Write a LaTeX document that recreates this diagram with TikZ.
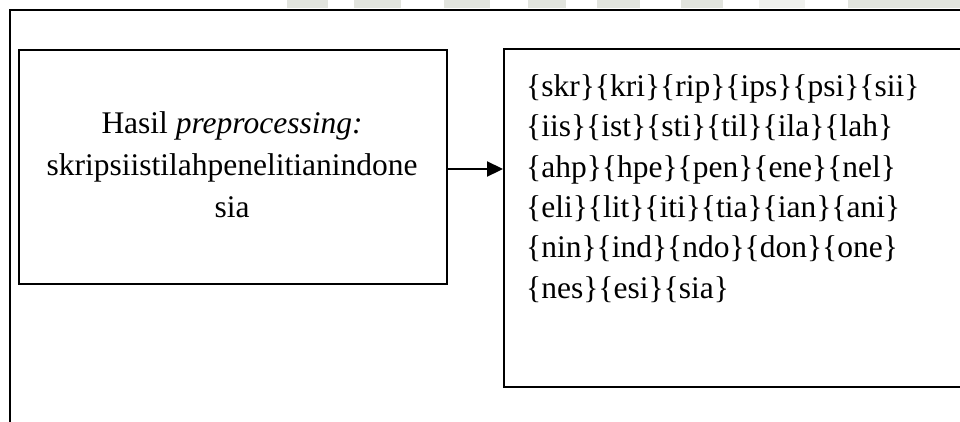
\documentclass[tikz,border=0pt]{standalone}
\usepackage{fontspec}
\setmainfont{Liberation Serif}
\usetikzlibrary{arrows.meta}
\definecolor{wm}{RGB}{226,228,222}
\begin{document}
\begin{tikzpicture}[x=1pt,y=-1pt,
  frame/.style={draw=black,line width=2.2pt},
  boxnode/.style={draw=black,line width=2.4pt,anchor=north west,inner sep=0pt},
  txt/.style={font=\fontsize{31.5}{42}\selectfont,inner sep=0pt},
  conn/.style={draw=black,line width=2.2pt,-{Triangle[length=16pt,width=15pt]}}]
\useasboundingbox (0,0) rectangle (960,421);
\clip (0,0) rectangle (960,421);
% faint watermark strip
\foreach \a/\b in {287/328,354/401,444/490,528/566,597/640,681/723,848/960}
  \fill[wm] (\a,0) rectangle (\b,8);
\fill[wm!50] (759,0) rectangle (805,8);
% outer frame
\coordinate (ftr) at (965,10);
\coordinate (ftl) at (10,10);
\coordinate (fbl) at (10,430);
\draw[frame] (ftr) -- (ftl) -- (fbl);
% boxes
\node[boxnode,minimum width=428.5pt,minimum height=234.5pt] (left) at (17.5,48.5) {};
\node[boxnode,minimum width=500pt,minimum height=337.5pt] (right) at (503,48) {};
% texts (base anchor = baseline of the last line)
\node[txt,align=center,anchor=base] (lt) at (232,217)
  {Hasil \textit{preprocessing:}\\skripsiistilahpenelitianindone\\sia};
\node[txt,font=\fontsize{31.5}{40.3}\selectfont,align=left,anchor=base west] (rt) at (526,298)
  {\{skr\}\{kri\}\{rip\}\{ips\}\{psi\}\{sii\}\\
   \{iis\}\{ist\}\{sti\}\{til\}\{ila\}\{lah\}\\
   \{ahp\}\{hpe\}\{pen\}\{ene\}\{nel\}\\
   \{eli\}\{lit\}\{iti\}\{tia\}\{ian\}\{ani\}\\
   \{nin\}\{ind\}\{ndo\}\{don\}\{one\}\\
   \{nes\}\{esi\}\{sia\}};
% connector
\coordinate (ay) at (0,169);
\draw[conn] (left.east |- ay) -- (right.west |- ay);
\end{tikzpicture}
\end{document}
